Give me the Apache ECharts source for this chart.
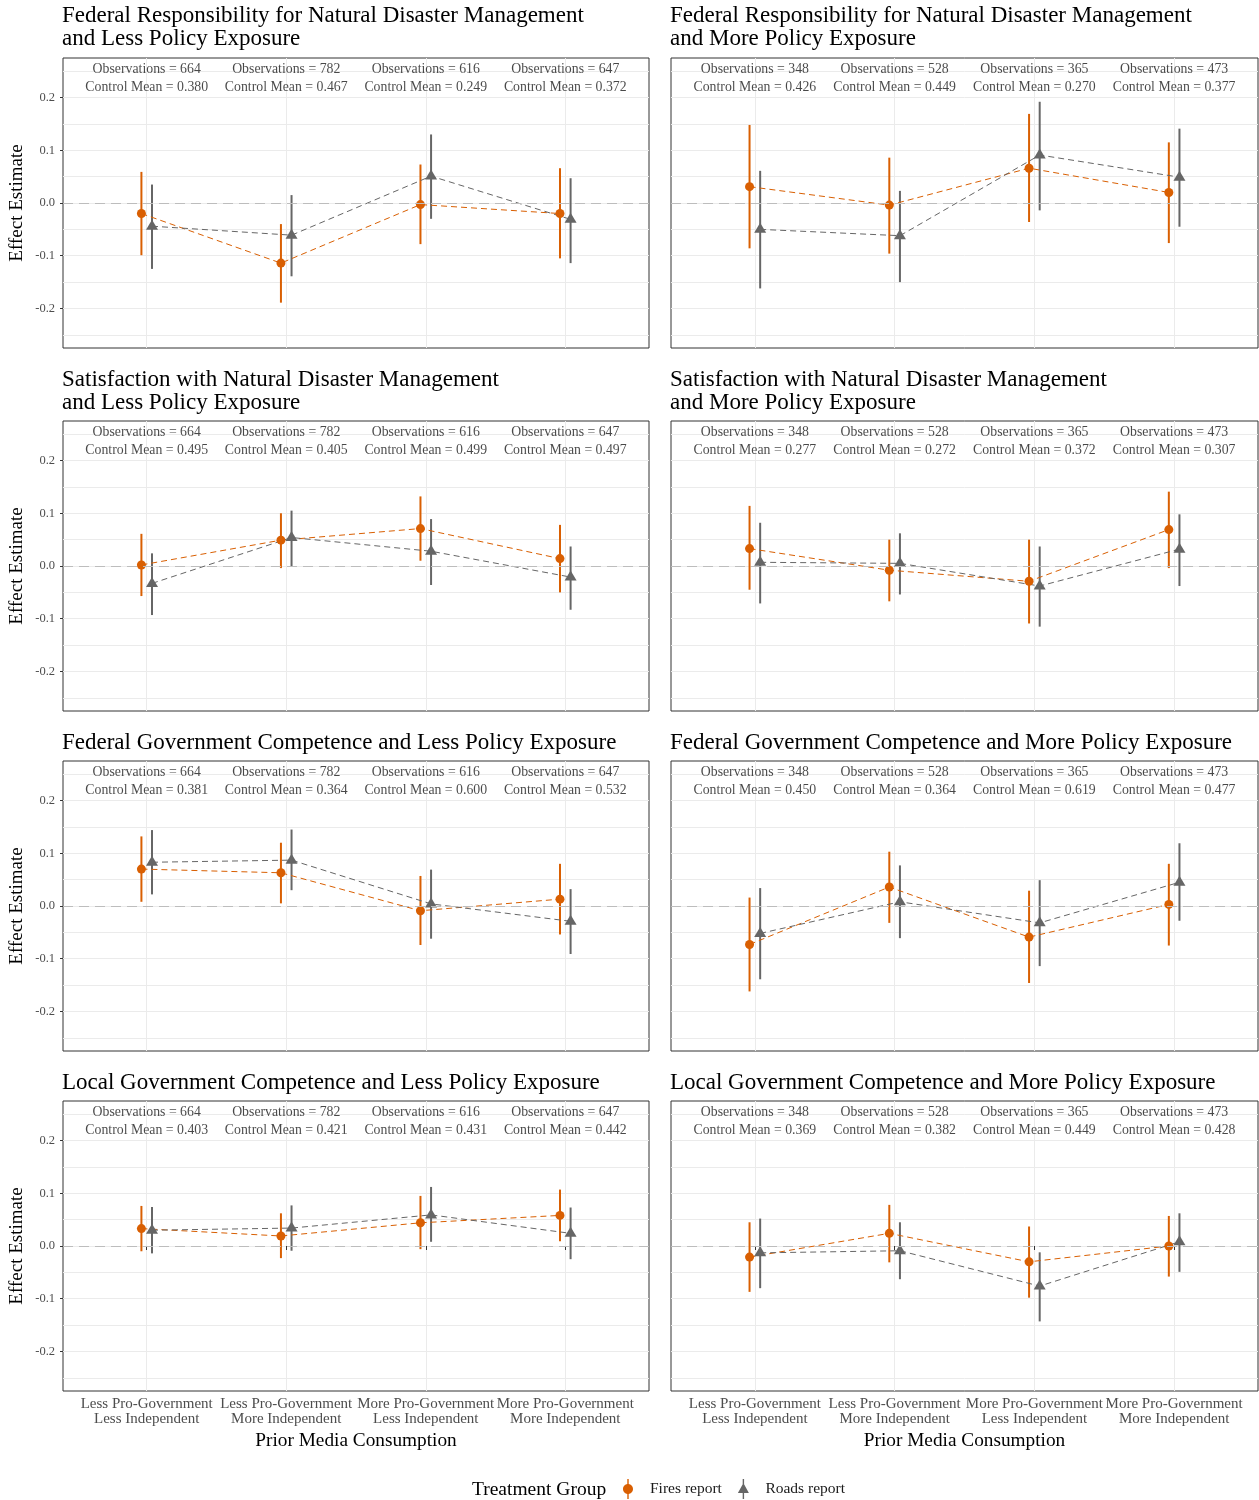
<!DOCTYPE html>
<html>
<head>
<meta charset="utf-8">
<script src="https://cdn.jsdelivr.net/npm/echarts@6/dist/echarts.min.js"></script>
<style>
  html, body { margin: 0; padding: 0; background: #ffffff; }
  #chart { width: 1259px; height: 1500px; }
</style>
</head>
<body>
<div id="chart"></div>
<script>
// ---- categories and labels ----
const mediaGroups = [
  'Less Pro-Government\nLess Independent',
  'Less Pro-Government\nMore Independent',
  'More Pro-Government\nLess Independent',
  'More Pro-Government\nMore Independent'
];
const yTickValues = [-0.2, -0.1, 0, 0.1, 0.2];
const panelTitles = [
  'Federal Responsibility for Natural Disaster Management\nand Less Policy Exposure',
  'Federal Responsibility for Natural Disaster Management\nand More Policy Exposure',
  'Satisfaction with Natural Disaster Management\nand Less Policy Exposure',
  'Satisfaction with Natural Disaster Management\nand More Policy Exposure',
  'Federal Government Competence and Less Policy Exposure',
  'Federal Government Competence and More Policy Exposure',
  'Local Government Competence and Less Policy Exposure',
  'Local Government Competence and More Policy Exposure'
];

// ---- sample sizes ----
const observationsLess = [664, 782, 616, 647];
const observationsMore = [348, 528, 365, 473];

// ---- control group means ----
const controlMeanFedRespLess = [0.380, 0.467, 0.249, 0.372];
const controlMeanFedRespMore = [0.426, 0.449, 0.270, 0.377];
const controlMeanSatLess = [0.495, 0.405, 0.499, 0.497];
const controlMeanSatMore = [0.277, 0.272, 0.372, 0.307];
const controlMeanFedCompLess = [0.381, 0.364, 0.600, 0.532];
const controlMeanFedCompMore = [0.450, 0.364, 0.619, 0.477];
const controlMeanLocalCompLess = [0.403, 0.421, 0.431, 0.442];
const controlMeanLocalCompMore = [0.369, 0.382, 0.449, 0.428];

// ---- effect estimates: [estimate, lower, upper] per media group ----
const fedRespLessFires = [[-0.020, -0.099, 0.059], [-0.114, -0.189, -0.040], [-0.003, -0.078, 0.073], [-0.020, -0.105, 0.066]];
const fedRespLessRoads = [[-0.044, -0.125, 0.035], [-0.061, -0.139, 0.015], [0.051, -0.030, 0.130], [-0.031, -0.114, 0.047]];
const fedRespMoreFires = [[0.031, -0.086, 0.148], [-0.004, -0.096, 0.086], [0.066, -0.036, 0.169], [0.020, -0.076, 0.115]];
const fedRespMoreRoads = [[-0.050, -0.162, 0.061], [-0.062, -0.150, 0.023], [0.091, -0.014, 0.192], [0.049, -0.045, 0.141]];
const satLessFires = [[0.002, -0.057, 0.061], [0.049, -0.004, 0.100], [0.071, 0.010, 0.132], [0.014, -0.050, 0.078]];
const satLessRoads = [[-0.033, -0.093, 0.024], [0.054, 0.000, 0.105], [0.028, -0.036, 0.089], [-0.021, -0.083, 0.037]];
const satMoreFires = [[0.033, -0.045, 0.114], [-0.008, -0.067, 0.050], [-0.029, -0.109, 0.050], [0.069, -0.004, 0.141]];
const satMoreRoads = [[0.007, -0.071, 0.082], [0.005, -0.054, 0.062], [-0.038, -0.115, 0.037], [0.032, -0.038, 0.098]];
const fedCompLessFires = [[0.070, 0.008, 0.132], [0.063, 0.005, 0.120], [-0.009, -0.074, 0.057], [0.013, -0.054, 0.080]];
const fedCompLessRoads = [[0.083, 0.022, 0.144], [0.087, 0.030, 0.145], [0.004, -0.062, 0.069], [-0.029, -0.091, 0.032]];
const fedCompMoreFires = [[-0.073, -0.162, 0.016], [0.036, -0.032, 0.103], [-0.059, -0.146, 0.029], [0.003, -0.075, 0.080]];
const fedCompMoreRoads = [[-0.052, -0.139, 0.034], [0.008, -0.061, 0.077], [-0.032, -0.114, 0.049], [0.045, -0.028, 0.119]];
const localCompLessFires = [[0.033, -0.010, 0.076], [0.019, -0.023, 0.062], [0.044, -0.006, 0.095], [0.058, 0.009, 0.107]];
const localCompLessRoads = [[0.030, -0.014, 0.074], [0.034, -0.009, 0.077], [0.059, 0.008, 0.112], [0.024, -0.025, 0.073]];
const localCompMoreFires = [[-0.021, -0.087, 0.045], [0.024, -0.031, 0.078], [-0.030, -0.098, 0.037], [0.000, -0.058, 0.057]];
const localCompMoreRoads = [[-0.013, -0.080, 0.052], [-0.009, -0.063, 0.045], [-0.076, -0.143, -0.012], [0.008, -0.049, 0.062]];

// ---- panels in reading order (row by row, left then right) ----
const panels = [
  { title: panelTitles[0], obs: observationsLess, mean: controlMeanFedRespLess, fires: fedRespLessFires, roads: fedRespLessRoads },
  { title: panelTitles[1], obs: observationsMore, mean: controlMeanFedRespMore, fires: fedRespMoreFires, roads: fedRespMoreRoads },
  { title: panelTitles[2], obs: observationsLess, mean: controlMeanSatLess, fires: satLessFires, roads: satLessRoads },
  { title: panelTitles[3], obs: observationsMore, mean: controlMeanSatMore, fires: satMoreFires, roads: satMoreRoads },
  { title: panelTitles[4], obs: observationsLess, mean: controlMeanFedCompLess, fires: fedCompLessFires, roads: fedCompLessRoads },
  { title: panelTitles[5], obs: observationsMore, mean: controlMeanFedCompMore, fires: fedCompMoreFires, roads: fedCompMoreRoads },
  { title: panelTitles[6], obs: observationsLess, mean: controlMeanLocalCompLess, fires: localCompLessFires, roads: localCompLessRoads },
  { title: panelTitles[7], obs: observationsMore, mean: controlMeanLocalCompMore, fires: localCompMoreFires, roads: localCompMoreRoads }
];

// ---- layout and style ----
const FONT = "'Liberation Serif', 'DejaVu Serif', serif";
const FIRES_COLOR = '#D95F02';
const ROADS_COLOR = '#666666';
const GRID_COLOR = '#ebebeb';
const colLeft = [63, 671];
const colWidth = [586, 587];
const rowTop = [58, 421, 761, 1101];
const rowHeight = 290;
const titleTop = [4.5, 368.5, 731.5, 1071.5];
const DODGE = 0.038;
const ANNOT_Y = 0.236;

const isWhole = v => Math.abs(v - Math.round(v)) < 1e-6;

const grids = [], xAxes = [], yAxes = [], series = [], titles = [];

panels.forEach((p, i) => {
  const row = Math.floor(i / 2), col = i % 2;
  const isBottom = row === 3, isLeft = col === 0;

  titles.push({
    text: p.title,
    left: colLeft[col] - 1,
    top: titleTop[row],
    padding: 0,
    textStyle: { fontFamily: FONT, fontSize: 23, fontWeight: 'normal', color: '#000', lineHeight: 23 }
  });

  grids.push({
    left: colLeft[col], top: rowTop[row], width: colWidth[col], height: rowHeight,
    show: true, borderColor: '#333333', borderWidth: 1, backgroundColor: 'transparent'
  });

  xAxes.push({
    type: 'value', gridIndex: i, min: 0.4, max: 4.6, minInterval: 1, maxInterval: 1,
    axisLine: { show: false },
    axisTick: { show: isBottom, length: 4, customValues: [1, 2, 3, 4], lineStyle: { color: '#333333' } },
    axisLabel: {
      show: isBottom, customValues: [1, 2, 3, 4], margin: 6,
      formatter: v => (isWhole(v) && v >= 1 && v <= 4) ? mediaGroups[Math.round(v) - 1] : '',
      fontFamily: FONT, fontSize: 15, color: '#4d4d4d', lineHeight: 15
    },
    splitLine: { show: true, lineStyle: { color: GRID_COLOR, width: 1 } },
    name: isBottom ? 'Prior Media Consumption' : '',
    nameLocation: 'middle', nameGap: 40,
    nameTextStyle: { fontFamily: FONT, fontSize: 19.3, color: '#000' }
  });

  yAxes.push({
    type: 'value', gridIndex: i, min: -0.275, max: 0.275, splitNumber: 5,
    minInterval: 0.1, maxInterval: 0.1,
    axisLine: { show: false },
    axisTick: { show: isLeft, length: 3, customValues: yTickValues, lineStyle: { color: '#333333' } },
    axisLabel: {
      show: isLeft, customValues: yTickValues, margin: 8,
      formatter: v => isWhole(v * 10) ? v.toFixed(1) : '',
      fontFamily: FONT, fontSize: 12.5, color: '#4d4d4d'
    },
    splitLine: { show: true, lineStyle: { color: GRID_COLOR, width: 1 } },
    minorTick: { show: false, splitNumber: 2 },
    minorSplitLine: { show: true, lineStyle: { color: GRID_COLOR, width: 1 } },
    name: isLeft ? 'Effect Estimate' : '',
    nameLocation: 'middle', nameGap: 36, nameRotate: 90,
    nameTextStyle: { fontFamily: FONT, fontSize: 19, color: '#000' }
  });

  const errorBars = (name, rows, shift, color) => ({
    name, type: 'custom', xAxisIndex: i, yAxisIndex: i, z: 2,
    itemStyle: { color },
    encode: { x: 0, y: [1, 2] },
    data: rows.map((d, j) => [j + 1 + shift, d[1], d[2]]),
    renderItem: (params, api) => {
      const x = api.value(0);
      const a = api.coord([x, api.value(1)]);
      const b = api.coord([x, api.value(2)]);
      return { type: 'line', shape: { x1: a[0], y1: a[1], x2: b[0], y2: b[1] },
               style: { stroke: color, lineWidth: 2 } };
    },
    silent: true
  });

  series.push({
    name: 'Fires report', type: 'line', xAxisIndex: i, yAxisIndex: i, z: 3,
    data: p.fires.map((d, j) => [j + 1 - DODGE, d[0]]),
    symbol: 'circle', symbolSize: 9,
    itemStyle: { color: FIRES_COLOR },
    lineStyle: { color: FIRES_COLOR, width: 1, type: [6, 4] },
    animation: false, silent: true
  });
  series.push({
    name: 'Roads report', type: 'line', xAxisIndex: i, yAxisIndex: i, z: 3,
    data: p.roads.map((d, j) => [j + 1 + DODGE, d[0]]),
    symbol: 'triangle', symbolSize: [12, 10], symbolOffset: [0, -1.5],
    itemStyle: { color: ROADS_COLOR },
    lineStyle: { color: ROADS_COLOR, width: 1, type: [6, 4] },
    animation: false, silent: true
  });
  series.push(errorBars('Fires report', p.fires, -DODGE, FIRES_COLOR));
  series.push(errorBars('Roads report', p.roads, DODGE, ROADS_COLOR));

  // sample size / control mean annotations and the zero reference line
  series.push({
    name: 'annotations', type: 'scatter', xAxisIndex: i, yAxisIndex: i, z: 4,
    symbolSize: 0,
    data: p.obs.map((n, j) => ({ value: [j + 1, ANNOT_Y], obs: n, mean: p.mean[j] })),
    label: {
      show: true, position: 'inside',
      formatter: prm => 'Observations = ' + prm.data.obs + '\nControl Mean = ' + prm.data.mean.toFixed(3),
      fontFamily: FONT, fontSize: 13.8, lineHeight: 18, color: '#1a1a1a'
    },
    markLine: {
      silent: true, symbol: 'none', animation: false,
      label: { show: false },
      lineStyle: { color: '#bdbdbd', width: 1, type: [10, 6] },
      data: [{ yAxis: 0 }]
    },
    animation: false, silent: true
  });
});

// legend icons: point with a vertical interval bar through it
const circleIcon = 'path://M6,5C8.76,5 11,7.24 11,10C11,12.76 8.76,15 6,15C3.24,15 1,12.76 1,10C1,7.24 3.24,5 6,5Z M5.3,0L6.7,0L6.7,20L5.3,20Z';
const triangleIcon = 'path://M6,4L11.5,14L0.5,14Z M5.3,0L6.7,0L6.7,20L5.3,20Z';

const chart = echarts.init(document.getElementById('chart'), null, { renderer: 'canvas' });
chart.setOption({
  backgroundColor: '#ffffff',
  animation: false,
  title: titles,
  grid: grids,
  xAxis: xAxes,
  yAxis: yAxes,
  series: series,
  legend: {
    data: [{ name: 'Fires report', icon: circleIcon }, { name: 'Roads report', icon: triangleIcon }],
    left: 623, top: 1479, padding: 0,
    itemWidth: 12, itemHeight: 20, itemGap: 16,
    selectedMode: false,
    itemStyle: { borderWidth: 0 },
    textStyle: { fontFamily: FONT, fontSize: 15.5, color: '#1a1a1a', padding: [0, 0, 0, 11] }
  },
  graphic: [{
    type: 'text', left: 472, top: 1480,
    style: { text: 'Treatment Group', fontFamily: FONT, fontSize: 19.5, fill: '#000' }
  }]
});
</script>
</body>
</html>
